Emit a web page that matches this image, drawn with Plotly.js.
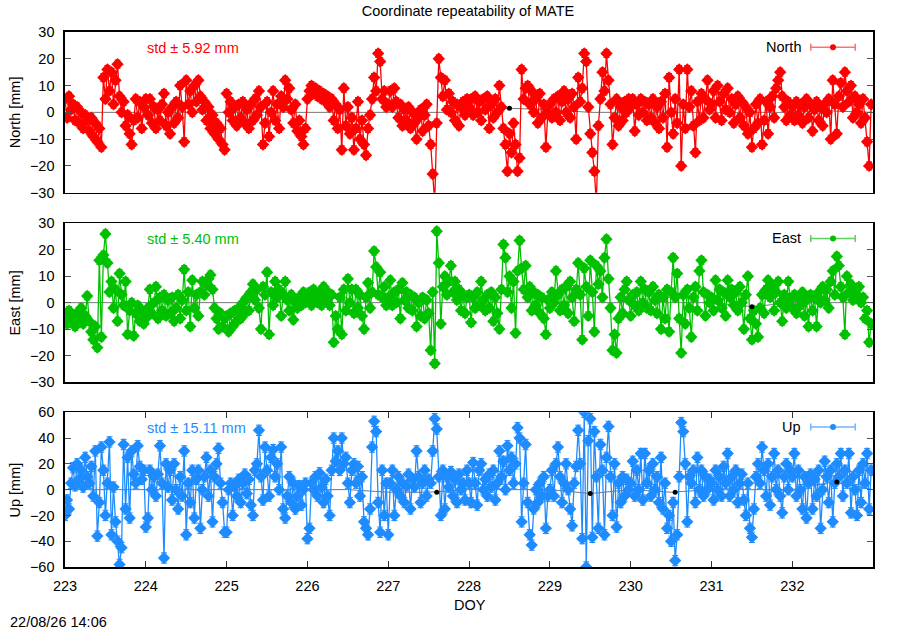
<!DOCTYPE html>
<html><head><meta charset="utf-8">
<script src="https://cdn.plot.ly/plotly-3.0.1.min.js"></script>
<style>html,body{margin:0;padding:0;background:#fff}#chart{width:900px;height:630px}</style>
</head><body><div id="chart"></div>
<script>
// time sampling (DOY)
const doyStart = 223.0;
const doyStep = 0.025;

// North [mm], 40 samples per day, DOY 223..232
const north = [
  5,-2,6,1,3,-3,2,-4,0,-6, -1,-3,-7,-2,-9,-4,-11,-6,-13,13, 5,16,8,15,3,12,18,6,0,4, -5,-1,-8,-12,-3,5,-2,4,-6,2,
  5,-1,5,-4,2,-6,1,-3,3,7, -5,0,-8,2,-4,4,-2,10,2,-11, 12,3,8,0,10,4,12,6,1,4, -3,2,-6,-1,-8,-4,-10,-6,-12,-14,
  7,0,4,-3,2,-5,3,-2,4,-4, 1,-6,3,-3,5,-1,8,2,-12,-4, 4,-9,0,8,-3,3,-6,6,2,12, 5,9,1,-4,3,-7,-3,-9,-12,-6,
  5,8,10,7,9,6,8,5,7,4, 6,2,5,-3,3,-6,1,-14,9,-5, 2,-8,-2,-14,-6,4,-10,-3,-12,-16, -6,-1,5,13,8,22,19,5,8,2,
  3,8,2,9,4,-2,3,-5,1,-3, 2,-6,0,-4,-10,-2,1,-7,-1,3, -5,-12,-23,-34,-4,20,13,6,12,1, 7,0,4,-3,3,-5,2,4,-1,5,
  2,5,-1,6,0,4,-3,5,1,6, -6,3,-2,5,0,10,2,-6,-12,-22, -8,-15,-4,-12,-22,-17,16,5,9,10, 3,8,0,5,-4,7,-2,3,-13,0,
  3,-2,5,0,6,-3,4,8,0,5, -2,7,2,-10,13,4,9,22,19,2, -8,-15,-22,-34,-5,5,15,8,22,12, 3,-12,-2,5,-5,2,-3,4,0,5,
  2,5,-7,3,-1,5,0,4,-3,3, -2,5,-4,2,-6,4,-2,7,-13,13, 0,-8,5,-4,16,-20,3,-6,16,2, 8,-5,-15,4,-3,7,-2,5,12,1,
  3,8,-2,10,4,-3,7,1,9,0, 5,-4,3,6,-2,4,-5,2,-8,0, -13,-6,3,-4,5,-12,-3,4,-8,2, 6,-2,9,12,15,6,2,-3,4,-1,
  2,-3,4,-1,3,-4,2,5,-2,3, -7,1,4,-3,2,-5,3,0,5,-10, 12,3,-8,6,11,2,15,8,4,10, -2,6,0,3,-4,5,-2,-11,-20,3
];

// East [mm]
const east = [
  -4,-8,-3,-7,-5,-9,-4,-6,-2,-8, -5,2.5,-7,-11,-14,-9,-17,16,-13,18, 26,15,4,8,-2,5,-7,11,3,-1, 8,-12,-3,0,-12.5,-4,-1,-7,-3,-8,
  -6,-2,5,-4,0,6,-6,2,-3,3, -5,1,-4,2,-7,-2,3,-6,1,12.5, -3,4,-9,8.5,-2,3,-5,4,8,3, 7,9,10.5,5,-2,-6,-10,-4,-9,-6,
  -5,-11,-4,-9,-3,-7,-2,-6,0,-4, 2,-3,4,7,1,5,-2,-10,6,3, 11.5,-12,4,-1,8,2,5,-5,3,8, 1,-3,3,-6.5,0,-2,2,-1,4,0,
  1,4,-1,5,2,0,4,-1,6,2, 4,-1,3,-15,-5,-10,2,-12,5,-3, 9,0,5,-4,5,-2,3,-5,-10,2, 7.5,-2,4,19.5,13.5,3,11.5,2,6,-1,
  2,8.5,-1,4,0,5,-6,7.5,1,4, -2,3,-3,2,-9,0,-5,2,-6,1, -4,-18,4,-23,27,15,-8,6,10,3, 8,14,4,8,1,5,-3,3,-4,2,
  3,-7.5,2,-2,4,-1,8,1,-3,3, -2,4,-7,2,-4,-10,5,22,17,4, 10,-2,8,-11.5,12,23.5,13,5,14,2, 6,-3,4,-1,3,-4,2,-6,-12,1,
  -2,4,0,12,3,-3,5,-1,6,-4, 8,2,-7,5,15,3,-14,13,6,-5, 16,4,-11,14,7,12,2,17,24,9, -2,-18,-12,-19,-6,2,-4,5,8,1,
  -5,3,-1,4,-3,8,0,5,-2,4, -3,6,1,-4,3,-10,2,-6,5,-11, 4,17,2,11,-6,-19,3,-8,5,-2, -13,2,6,-3,12,16,4,-5,3,0,
  2,-3,8.5,1,5,-2,4,-5,8.5,2, 5,-1,4,-3,6,0,-10,3,10,-6, -14,-3,-8,-13,-2,3,-4,5,8.5,2, 6,-3,4,8,0,-7,3,-2,8,1,
  -2,3,-4,2,-1,4,-5,1,-9,3, -3,2,-9,4,0,6,1,5,-2,8, 12,3,17.5,14,6,2,-12,10,4,7, 1,5,3,6,0,2,-6,-3,-15,-8
];

// Up [mm]
const up = [
  -20,-8,-15,5,17,3,20,8,15,2, 25,10,5,18,-5,30,-36,-10,33,15, -20,5,37,-35,2,-25,-40,-58,-45,35, -15,25,-22,30,12,5,34,18,8,15,
  -29,-22,15,0,10,-5,12,34,5,-53, 20,2,15,-8,20,0,-15,10,-5,30, -35,5,-10,15,-22,8,15,-30,0,10, 25,-5,15,-25,10,20,32,5,-10,-33,
  -33,0,5,-20,3,-5,8,-10,5,12, -3,8,-12,-20,15,20,46,10,-8,33, 15,-5,25,31,10,20,0,33,-15,-22, -5,10,-10,5,-15,-5,3,-12,0,5,
  -38,-30,5,0,10,-5,13,2,-10,8, -5,-20,15,40,22,30,15,40,20,25, 5,-10,15,20,5,18,-5,10,-25,-30, -35,-15,33,53,45,-10,-33,15,-20,5,
  -35,5,15,-20,0,10,-5,5,-10,3, 12,-15,8,2,30,10,-10,5,15,-5, 8,5,30,55,47,10,-20,15,-15,10, 2,14,-5,8,-10,12,0,5,-8,15,
  5,-10,21,5,-12,15,20,0,8,-5, 12,2,15,-8,5,30,10,22,0,34, 15,25,5,20,48,40,-25,5,35,-10, -35,-43,-15,0,-10,5,-5,10,-30,-5,
  0,15,-5,20,33,10,-10,5,20,0, -15,-28,5,18,46,20,-38,60,-60,38, 55,-37,45,10,-30,35,15,-35,25,49, 10,-20,20,-29,5,-10,10,-5,8,0,
  5,22,-5,15,0,28,-8,28,5,15, -5,20,0,10,-10,25,-15,5,-30,-20, -40,-10,-55,-35,10,52,45,20,-25,10, 5,15,-10,25,0,15,-5,10,0,8,
  5,-8,15,0,10,-5,18,5,28,-5, 10,0,15,-10,5,12,-8,-20,5,-30, -37,-15,10,20,5,33,15,-5,20,-12, 10,28,0,15,-5,-18,10,20,0,15,
  10,28,-5,15,0,-15,10,-22,5,12, -15,8,-5,15,-30,0,22,10,-10,15, -25,5,20,10,28,-5,15,5,28,-18, 10,0,-20,15,-10,20,5,28,-15,15
];

// formal errors [mm]
const errNorth = 1.5, errEast = 1.5, errUp = 4;

// reference (trend) line
const trendDoy = [223,223.5,224,224.5,225,225.5,226,226.5,227,227.5,228,228.5,229,229.5,230,230.5,231,231.5,232,232.5,233];
const trendNorth = [0,0,0,0,0,0,0,0,0,0,0,1.5,1,0,0,0,0,0,0,0.5,0];
const trendEast = [0,0,0,0,0,0,0,0,0,0,0,0,0,0,0,0,0,-1.5,0,0,0];
const trendUp = [0,0,0,0,0,0,0,0,-2,-2,0,0,0,-3,0,-2,0,0,0,6,0];
const dotNorthX = [228.5], dotNorthY = [1.5];
const dotEastX = [231.5], dotEastY = [-1.5];
const dotUpX = [227.6, 229.5, 230.55, 232.55], dotUpY = [-2, -3, -2, 6];

const seriesNames = ['North','East','Up'];
const axisTitles = ['North [mm]','East [mm]','Up [mm]'];
const stdLabels = ['std \u00b1 5.92 mm','std \u00b1 5.40 mm','std \u00b1 15.11 mm'];
const colors = ['#ff0000','#00c000','#1e8cff'];
const legendLineColors = ['#ff7070','#60d060','#70b4ff'];

const doy = north.map((_, i) => +(doyStart + i * doyStep).toFixed(3));

const FONT = 'Liberation Sans, Arial, Helvetica, sans-serif';
const data = [];
const vals = [north, east, up];
const errs = [errNorth, errEast, errUp];
const trends = [trendNorth, trendEast, trendUp];
const dotsX = [dotNorthX, dotEastX, dotUpX];
const dotsY = [dotNorthY, dotEastY, dotUpY];
for (let k = 0; k < 3; k++) {
  const xa = k === 0 ? 'x' : 'x' + (k + 1);
  const ya = k === 0 ? 'y' : 'y' + (k + 1);
  data.push({
    x: trendDoy, y: trends[k], type: 'scatter', mode: 'lines', xaxis: xa, yaxis: ya,
    showlegend: false, hoverinfo: 'skip', line: {color: 'rgba(60,60,60,0.7)', width: 1}
  });
  data.push({
    x: doy, y: vals[k], type: 'scatter', mode: 'lines+markers', xaxis: xa, yaxis: ya,
    name: seriesNames[k], showlegend: false, hoverinfo: 'skip',
    line: {color: colors[k], width: 1.3},
    marker: {symbol: 'diamond', size: 9.5, color: colors[k], line: {width: 0}},
    error_y: {type: 'constant', value: errs[k], color: colors[k], thickness: 1, width: 3}
  });
  data.push({
    x: dotsX[k], y: dotsY[k], type: 'scatter', mode: 'markers', xaxis: xa, yaxis: ya,
    showlegend: false, hoverinfo: 'skip', marker: {color: '#000', size: 5}
  });
}

const domains = [[0.6996, 1.0], [0.3458, 0.6424], [0.0, 0.2892]];
const yRanges = [[-30, 30], [-30, 30], [-60, 60]];
const yDticks = [10, 10, 20];

const layout = {
  width: 900, height: 630,
  margin: {l: 65, r: 27, t: 32, b: 63},
  paper_bgcolor: '#fff', plot_bgcolor: '#fff',
  font: {family: FONT, size: 14.5, color: '#000'},
  title: {text: 'Coordinate repeatability of MATE', x: 0.52, xref: 'container', xanchor: 'center',
          y: 0.983, yref: 'container', yanchor: 'middle', font: {family: FONT, size: 14.5, color: '#000'}},
  annotations: [], shapes: []
};

for (let k = 0; k < 3; k++) {
  const xk = k === 0 ? 'xaxis' : 'xaxis' + (k + 1);
  const yk = k === 0 ? 'yaxis' : 'yaxis' + (k + 1);
  const ya = k === 0 ? 'y' : 'y' + (k + 1);
  const xa = k === 0 ? 'x' : 'x' + (k + 1);
  const last = k === 2;
  layout[xk] = {
    domain: [0, 1], anchor: ya, range: [223, 232.998], dtick: 1, tick0: 223,
    showline: true, linecolor: '#000', linewidth: 1.6, mirror: last ? 'allticks' : true,
    ticks: last ? 'inside' : '', ticklen: 6, tickwidth: 1, tickcolor: '#333',
    showticklabels: last, showgrid: false, zeroline: false, ticklabelstandoff: 5,
    tickfont: {family: FONT, size: 14.5, color: '#000'}
  };
  layout[yk] = {
    domain: domains[k], anchor: xa, range: yRanges[k], dtick: yDticks[k], tick0: 0,
    showline: true, linecolor: '#000', linewidth: 1.6, mirror: 'allticks',
    ticks: 'inside', ticklen: 6, tickwidth: 1, tickcolor: '#555',
    showgrid: false, zeroline: false, ticklabelstandoff: 6,
    tickfont: {family: FONT, size: 14.5, color: '#000'}
  };
  const xd = xa + ' domain', yd = ya + ' domain';
  layout.annotations.push({
    text: axisTitles[k], xref: 'paper', x: -0.062, yref: yd, y: 0.5,
    textangle: -90, showarrow: false, xanchor: 'center', yanchor: 'middle',
    font: {family: FONT, size: 14.5, color: '#000'}
  });
  layout.annotations.push({
    text: stdLabels[k], xref: xd, x: 0.099, yref: yd, y: 0.9, showarrow: false,
    xanchor: 'left', yanchor: 'middle', font: {family: FONT, size: 14.5, color: colors[k]}
  });
  layout.annotations.push({
    text: seriesNames[k], xref: xd, x: 0.913, yref: yd, y: 0.905, showarrow: false,
    xanchor: 'right', yanchor: 'middle', font: {family: FONT, size: 14.5, color: '#000'}
  });
  layout.shapes.push({type: 'line', xref: xd, yref: yd, x0: 0.923, x1: 0.978, y0: 0.905, y1: 0.905,
    line: {color: legendLineColors[k], width: 1.5}});
  [0.923, 0.978].forEach(xc => layout.shapes.push({type: 'line', xref: xd, yref: yd,
    xsizemode: 'pixel', xanchor: xc, x0: 0, x1: 0, ysizemode: 'pixel', yanchor: 0.905, y0: -3.5, y1: 3.5,
    line: {color: legendLineColors[k], width: 1.5}}));
  layout.shapes.push({type: 'circle', xref: xd, yref: yd, xsizemode: 'pixel', ysizemode: 'pixel',
    xanchor: 0.9505, yanchor: 0.905, x0: -3, x1: 3, y0: -3, y1: 3,
    fillcolor: colors[k], line: {color: colors[k], width: 0}});
}

layout.annotations.push({
  text: 'DOY', xref: 'paper', x: 0.501, yref: 'paper', y: -0.071, showarrow: false,
  xanchor: 'center', yanchor: 'middle', font: {family: FONT, size: 14.5, color: '#000'}
});
layout.annotations.push({
  text: '22/08/26 14:06', xref: 'paper', x: -0.0705, yref: 'paper', y: -0.103, showarrow: false,
  xanchor: 'left', yanchor: 'middle', font: {family: FONT, size: 14.5, color: '#000'}
});

Plotly.newPlot('chart', data, layout, {staticPlot: true, displayModeBar: false});
</script>
</body></html>
